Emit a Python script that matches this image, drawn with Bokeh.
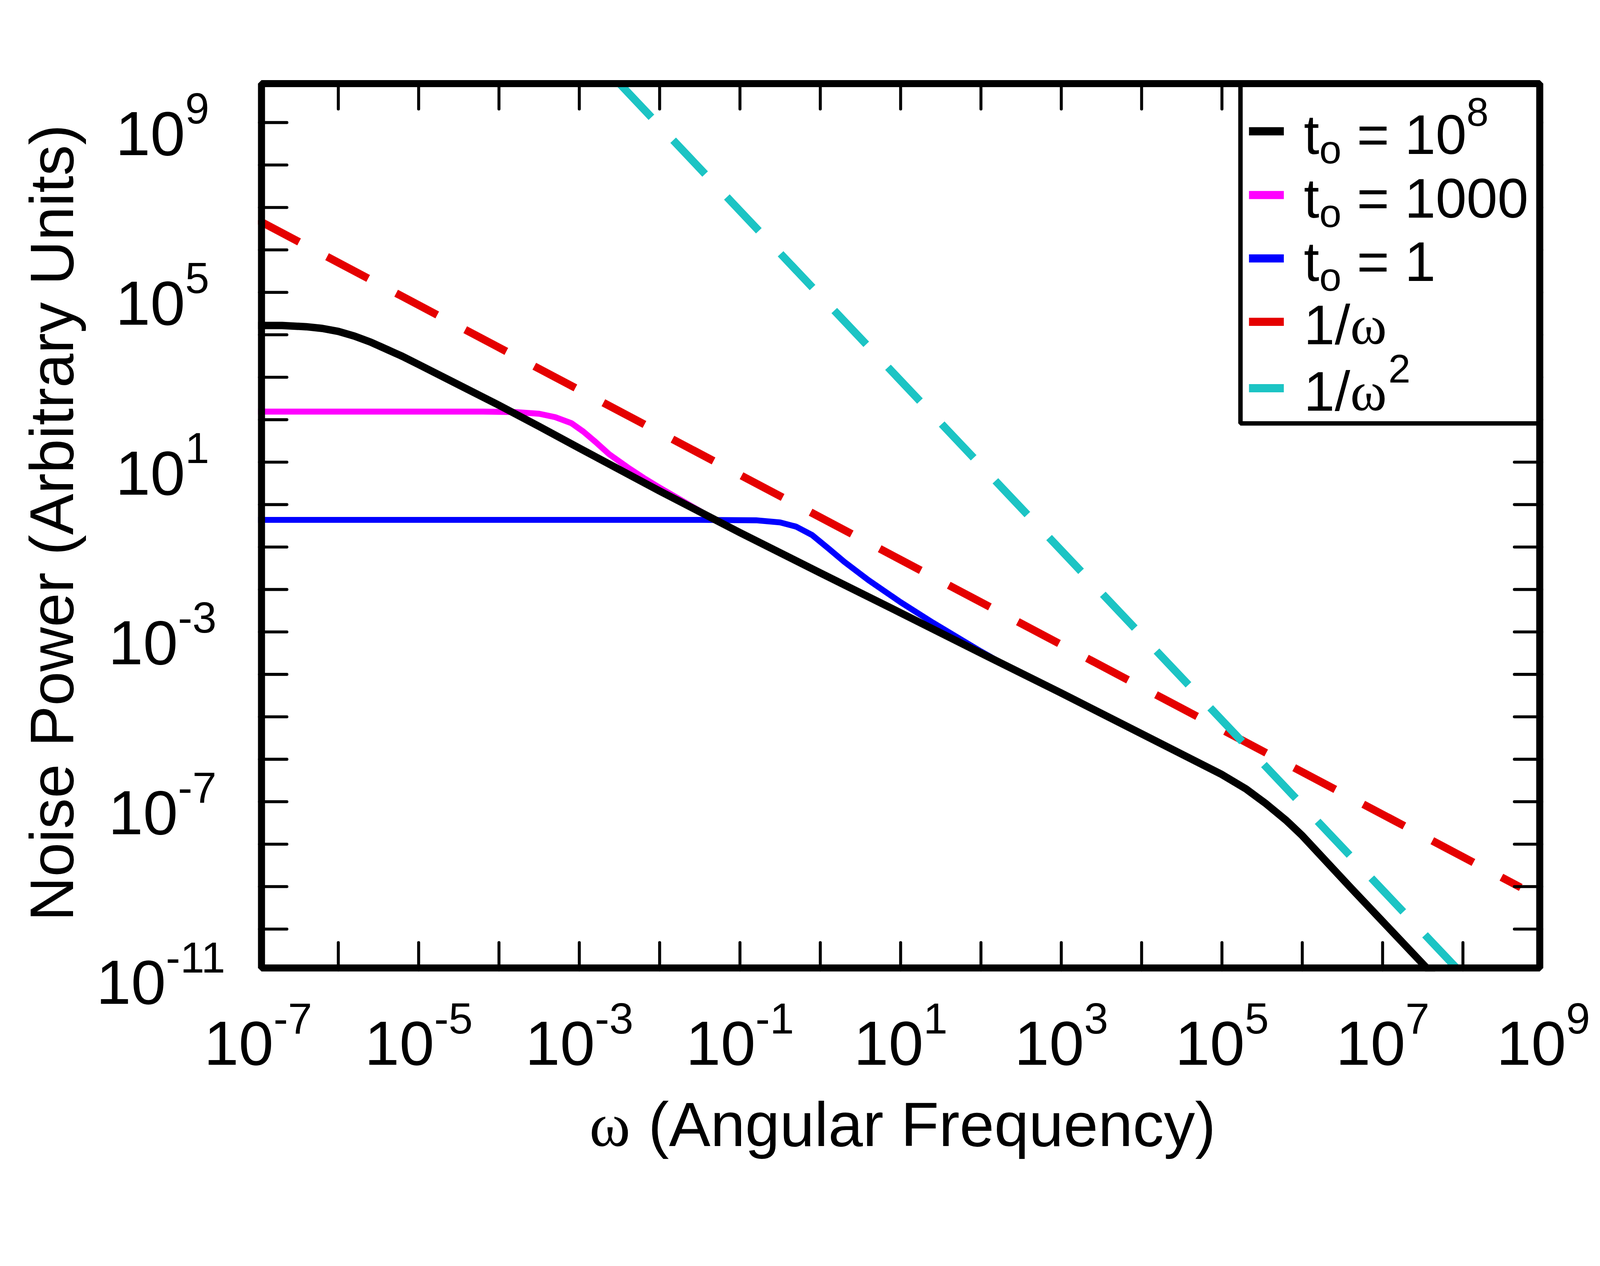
import math
from bokeh.plotting import figure
from bokeh.models import Range1d, Label, BoxAnnotation
from bokeh.embed import file_html
from bokeh.resources import INLINE

# ---------------- data (log10 values) ----------------
black_log_omega = [-7.0, -6.7, -6.4, -6.2, -6.0, -5.8, -5.6, -5.4, -5.2, -5.0, -4.5, -4.0,
                   -3.5, -3.0, -2.0, -1.0, 0.0, 1.0, 2.0, 3.0, 4.0, 5.0, 5.3, 5.55, 5.8,
                   6.0, 6.3, 6.6, 7.0, 7.5, 7.8]
black_log_power = [4.22, 4.22, 4.19, 4.15, 4.08, 3.97, 3.83, 3.66, 3.49, 3.30, 2.82, 2.34,
                   1.84, 1.33, 0.32, -0.66, -1.61, -2.55, -3.50, -4.44, -5.40, -6.36, -6.70,
                   -7.05, -7.44, -7.80, -8.41, -9.02, -9.82, -10.82, -11.42]

magenta_log_omega = [-7.0, -4.2, -3.8, -3.5, -3.3, -3.1, -2.95, -2.8, -2.63, -2.4, -2.2,
                     -2.0, -1.7, -1.4, -1.1, -0.8]
magenta_log_power = [2.19, 2.19, 2.18, 2.14, 2.06, 1.92, 1.72, 1.48, 1.19, 0.88, 0.63,
                     0.40, 0.07, -0.26, -0.56, -0.85]

blue_log_omega = [-7.0, -1.5, -0.8, -0.5, -0.3, -0.1, 0.1, 0.3, 0.6, 1.0, 1.4, 1.7, 2.0,
                  2.3, 2.6]
blue_log_power = [-0.36, -0.36, -0.37, -0.42, -0.52, -0.72, -1.03, -1.35, -1.78, -2.30,
                  -2.78, -3.12, -3.46, -3.78, -4.06]

red_log_omega = [-7.0, 8.72]
red_log_power = [6.70, -9.02]

cyan_log_omega = [-2.5, 8.1]
cyan_log_power = [9.92, -11.28]

x_tick_exponents = [-7, -5, -3, -1, 1, 3, 5, 7, 9]
y_tick_exponents = [9, 5, 1, -3, -7, -11]
x_minor_exponents = list(range(-6, 9))
y_minor_exponents = list(range(-10, 10))
X_MIN_EXP, X_MAX_EXP = -7, 9
Y_MIN_EXP, Y_MAX_EXP = -11, 10

# ---------------- layout ----------------
# positions below are measured in photo pixels; Z converts them to page (CSS) pixels
Z = 1.054
W, H = 4080, 3056
OFF = 8
X_EDGE, Y_EDGE = 704, 224      # photo position of 10^-7 (left) and 10^10 (top)
PXX, PXY = 216.75, 114.5       # photo pixels per decade
BASE_K = 0.31                  # label anchor correction (fraction of font size)

def cxp(X):
    return X / Z - OFF

def sx(X):
    return cxp(X)

def sy(Y):
    return H - (Y / Z - OFF)

def px(v):
    return v / Z

ARIAL = {'0': 0.556, '1': 0.556, '2': 0.556, '3': 0.556, '4': 0.556, '5': 0.556,
         '6': 0.556, '7': 0.556, '8': 0.556, '9': 0.556, '-': 0.333, 't': 0.278,
         'o': 0.556, '=': 0.584, ' ': 0.278, '/': 0.278}

def tw(s, size):
    return sum(ARIAL[c] for c in s) * size

SANS = "Liberation Sans"
SERIF = "Liberation Serif"

cx0 = cxp(X_EDGE)
cy0 = Y_EDGE / Z - OFF
PXXc, PXYc = PXX / Z, PXY / Z
x_range = Range1d(10 ** (X_MIN_EXP - cx0 / PXXc), 10 ** (X_MIN_EXP + (W - cx0) / PXXc))
y_range = Range1d(10 ** (Y_MAX_EXP - (H - cy0) / PXYc), 10 ** (Y_MAX_EXP + cy0 / PXYc))

p = figure(width=W, height=H, x_axis_type="log", y_axis_type="log",
           x_range=x_range, y_range=y_range, output_backend="svg",
           toolbar_location=None, x_axis_location=None, y_axis_location=None,
           min_border=0, min_border_left=0, min_border_right=0, min_border_top=0,
           min_border_bottom=0)
p.background_fill_color = "white"
p.border_fill_color = "white"
p.outline_line_color = None
p.grid.visible = False

def xin(d):
    return 10 ** (X_MIN_EXP + d / PXX)

def xout(d):
    return 10 ** (X_MAX_EXP - d / PXX)

def ybot(d):
    return 10 ** (Y_MIN_EXP + d / PXY)

def ytop(d):
    return 10 ** (Y_MAX_EXP - d / PXY)

def box(left, right, bottom, top, color, level="annotation", lw=0, lc=None, fill=True,
        units="data", radius=0):
    b = BoxAnnotation(left=left, right=right, bottom=bottom, top=top,
                      left_units=units, right_units=units, top_units=units,
                      bottom_units=units, fill_color=color if fill else None,
                      fill_alpha=1 if fill else 0, line_color=lc,
                      line_width=lw if lw else 1, line_alpha=1 if lc else 0,
                      level=level, border_radius=int(radius))
    p.add_layout(b)
    return b

def pw(v):
    return [10.0 ** a for a in v]

p.line(pw(magenta_log_omega), pw(magenta_log_power), line_color="#FF00FF",
       line_width=px(16), line_join="round")
p.line(pw(blue_log_omega), pw(blue_log_power), line_color="#0000FF", line_width=px(16),
       line_join="round")
p.line(pw(black_log_omega), pw(black_log_power), line_color="black", line_width=px(20),
       line_join="round")
dash = f"{px(125):.0f} {px(85):.0f}"
p.line(pw(red_log_omega), pw(red_log_power), line_color="#E50000", line_width=px(21),
       line_dash=dash)
p.line(pw(cyan_log_omega), pw(cyan_log_power), line_color="#1CC4C4", line_width=px(21),
       line_dash=dash)

# white masks outside the plot box
x0, x1 = x_range.start / 100, x_range.end * 100
y0, y1 = y_range.start / 100, y_range.end * 100
xa, xb = 10.0 ** X_MIN_EXP, 10.0 ** X_MAX_EXP
ya, yb = 10.0 ** Y_MIN_EXP, 10.0 ** Y_MAX_EXP
box(x0, xa, y0, y1, "white")
box(xb, x1, y0, y1, "white")
box(x0, x1, yb, y1, "white")
box(x0, x1, y0, ya, "white")

# tick marks (inside, on every side), 8 px wide, reaching 82 px from the box edge
TICK, HW = 82, 4.0
rad = round(px(HW))
for k in x_minor_exponents:
    l, r = 10 ** (k - HW / PXX), 10 ** (k + HW / PXX)
    box(l, r, ya, ybot(TICK), "black", radius=rad)
    box(l, r, ytop(TICK), yb, "black", radius=rad)
for k in y_minor_exponents:
    b_, t_ = 10 ** (k - HW / PXY), 10 ** (k + HW / PXY)
    box(xa, xin(TICK), b_, t_, "black", radius=rad)
    box(xout(TICK), xb, b_, t_, "black", radius=rad)

# legend box (drawn before the frame so the frame stays on top)
box(sx(3355), sx(4160), sy(1150), sy(236), "white", lw=px(12), lc="black", units="screen")
leg_colors = ["black", "#FF00FF", "#0000FF", "#E50000", "#1CC4C4"]
leg_base = [417, 589, 760, 931, 1110]
for c, b in zip(leg_colors, leg_base):
    cyy = b - 55
    box(sx(3378), sx(3472), sy(cyy + 11), sy(cyy - 11), c, units="screen")

# plot frame (line drawn inward of the data edges)
box(xin(9.5), xout(9.5), ybot(9.5), ytop(9.5), None, lw=px(19), lc="black", fill=False)

def label(text, X, Y, size, font=SANS, angle=0):
    # X, Y: photo position of the text start on its baseline; size in photo px
    if angle:
        ax, ay = X - BASE_K * size, Y
    else:
        ax, ay = X, Y - BASE_K * size
    p.add_layout(Label(text=text, x=sx(ax), y=sy(ay), x_units="screen", y_units="screen",
                       angle=angle, text_font=font, text_font_size=f"{px(size):.1f}px",
                       text_color="black", text_align="left",
                       text_baseline="alphabetic"))

def dlabel(text, xdata, ydata, xo, yo, size, font=SANS):
    # data anchored; xo right, yo down (photo px) to the text baseline start
    kw = {}
    if xdata is None:
        kw.update(x=sx(xo), x_units="screen", x_offset=0)
    else:
        kw.update(x=xdata, x_units="data", x_offset=px(xo))
    if ydata is None:
        kw.update(y=sy(yo - BASE_K * size), y_units="screen", y_offset=0)
    else:
        kw.update(y=ydata, y_units="data", y_offset=-px(yo - BASE_K * size))
    p.add_layout(Label(text=text, text_font=font, text_font_size=f"{px(size):.1f}px",
                       text_color="black", text_align="left",
                       text_baseline="alphabetic", **kw))

TS, ES = 169, 117
# x tick labels
for e in x_tick_exponents:
    ex = str(e)
    wb, we = tw("10", TS), tw(ex, ES)
    tot = wb + we
    dlabel("10", 10.0 ** e, None, -tot / 2, 2875, TS)
    dlabel(ex, 10.0 ** e, None, -tot / 2 + wb, 2875 - 84, ES)

# y tick labels
for e in y_tick_exponents:
    ex = str(e)
    wb, we = tw("10", TS), tw(ex, ES)
    tot = wb + we
    dlabel("10", None, 10.0 ** e, 446 - tot / 2, 82, TS)
    dlabel(ex, None, 10.0 ** e, 446 - tot / 2 + wb, 82 - 84, ES)

# axis titles
label("ω", 1598, 3093, 168, font=SERIF)
label("(Angular Frequency)", 1757, 3093, 168)
label("Noise Power (Arbitrary Units)", 198, 2493, 166, angle=math.pi / 2)

# legend texts
LS, SS = 150, 107
X0 = 3526
for b, rest, sup in zip(leg_base[:3], ["= 10", "= 1000", "= 1"], ["8", None, None]):
    label("t", X0, b, LS)
    xo = X0 + tw("t", LS)
    label("o", xo, b + 28, SS)
    xr = xo + tw("o", SS) + tw(" ", LS)
    label(rest, xr, b, LS)
    if sup:
        label(sup, xr + tw(rest, LS), b - 74, SS)

for b, sup in zip(leg_base[3:], [None, "2"]):
    label("1/", X0, b, LS)
    xw = X0 + tw("1/", LS)
    label("ω", xw, b, LS, font=SERIF)
    if sup:
        label(sup, xw + 0.686 * LS, b - 74, SS)

open("out.html", "w").write(file_html(p, INLINE))
